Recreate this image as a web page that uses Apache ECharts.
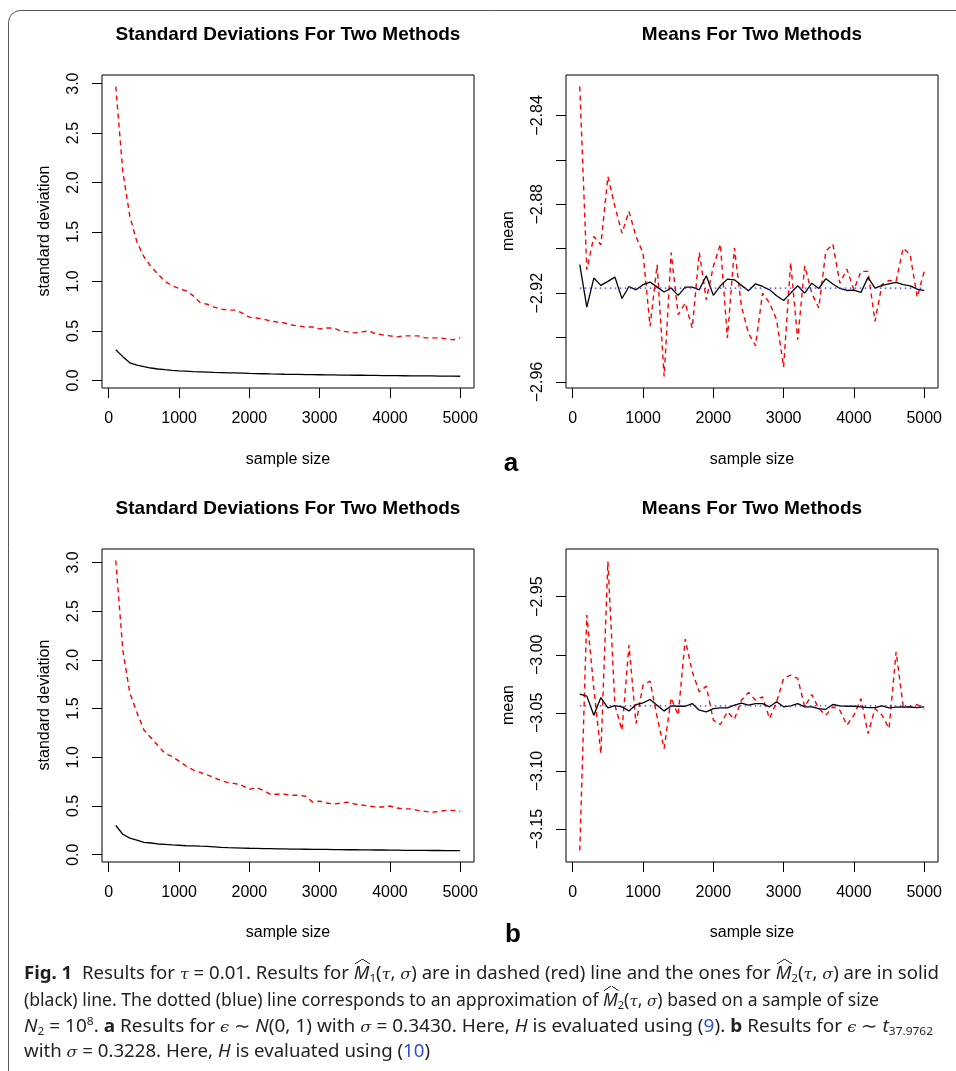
<!DOCTYPE html>
<html><head><meta charset="utf-8">
<script src="https://cdn.jsdelivr.net/npm/echarts@6/dist/echarts.min.js"></script>
<style>
html,body{margin:0;padding:0;background:#fff;}
#wrap{position:relative;width:956px;height:1071px;overflow:hidden;}
#chart{position:absolute;left:0;top:0;width:956px;height:1071px;}
.cap{position:absolute;left:24px;white-space:nowrap;font-family:"Noto Sans";font-size:17.5px;color:#231f20;transform-origin:0 50%;line-height:20px;}
.cap b{font-weight:700;}
.m{font-family:"DejaVu Serif";font-style:italic;font-size:15px;}
.it{font-style:italic;}
.ref{color:#2f4fd8;}
.hm{position:relative;display:inline-block;font-style:italic;}
.hm::before{content:"";position:absolute;left:1px;right:-1px;top:-3px;height:5px;background:
 linear-gradient(to top left, transparent 42%, #231f20 48%, #231f20 52%, transparent 58%) left/50% 100% no-repeat,
 linear-gradient(to top right, transparent 42%, #231f20 48%, #231f20 52%, transparent 58%) right/50% 100% no-repeat;}
sub{font-size:11px;vertical-align:-3px;line-height:0;}
sup{font-size:11px;vertical-align:7px;line-height:0;}
</style></head>
<body>
<div id="wrap">
<div id="chart"></div>
<div class="cap" data-w="915" style="top:962px"><b>Fig. 1</b>&nbsp; Results for <span class="m">τ</span> = 0.01. Results for <span class="hm">M</span><sub>1</sub>(<span class="m">τ</span>, <span class="m">σ</span>) are in dashed (red) line and the ones for <span class="hm">M</span><sub>2</sub>(<span class="m">τ</span>, <span class="m">σ</span>) are in solid</div>
<div class="cap" data-w="855" style="top:989px">(black) line. The dotted (blue) line corresponds to an approximation of <span class="hm">M</span><sub>2</sub>(<span class="m">τ</span>, <span class="m">σ</span>) based on a sample of size</div>
<div class="cap" data-w="909" style="top:1015px"><span class="it">N</span><sub>2</sub> = 10<sup>8</sup>. <b>a</b> Results for <span class="m">ϵ</span> ∼ <span class="it">N</span>(0, 1) with <span class="m">σ</span> = 0.3430. Here, <span class="it">H</span> is evaluated using (<span class="ref">9</span>). <b>b</b> Results for <span class="m">ϵ</span> ∼ <span class="it">t</span><sub>37.9762</sub></div>
<div class="cap" data-w="406" style="top:1040px">with <span class="m">σ</span> = 0.3228. Here, <span class="it">H</span> is evaluated using (<span class="ref">10</span>)</div>
</div>
<script>
// ---- data ----
const sampleSize = [100,200,300,400,500,600,700,800,900,1000,1100,1200,1300,1400,1500,1600,1700,1800,1900,2000,
  2100,2200,2300,2400,2500,2600,2700,2800,2900,3000,3100,3200,3300,3400,3500,3600,3700,3800,3900,4000,
  4100,4200,4300,4400,4500,4600,4700,4800,4900,5000];

// panel a: standard deviations
const sdM1a = [2.97,2.11,1.66,1.40,1.25,1.15,1.075,1.00,0.957,0.93,0.904,0.857,0.786,0.77,0.74,0.72,0.71,0.71,0.68,0.64,
  0.63,0.62,0.60,0.59,0.58,0.56,0.55,0.54,0.54,0.52,0.53,0.53,0.50,0.49,0.48,0.49,0.50,0.47,0.46,0.45,
  0.44,0.45,0.45,0.45,0.43,0.43,0.43,0.42,0.41,0.43];
const sdM2a = [0.31,0.24,0.178,0.155,0.138,0.125,0.115,0.108,0.102,0.097,0.093,0.089,0.086,0.083,0.080,0.078,0.076,0.075,0.074,0.071,
  0.069,0.067,0.065,0.064,0.062,0.061,0.060,0.059,0.058,0.057,0.056,0.055,0.054,0.053,0.052,0.052,0.051,0.050,0.049,0.048,
  0.048,0.047,0.046,0.046,0.045,0.045,0.044,0.044,0.043,0.042];

// panel a: means
const meanM1a = [-2.827,-2.9095,-2.8945,-2.8982,-2.8675,-2.881,-2.893,-2.8832,-2.8945,-2.902,
  -2.935,-2.9072,-2.9575,-2.9017,-2.9297,-2.9245,-2.9357,-2.9017,-2.923,-2.908,
  -2.8979,-2.9402,-2.8997,-2.926,-2.938,-2.9437,-2.92,-2.9245,-2.932,-2.9533,
  -2.9062,-2.941,-2.9077,-2.92,-2.9267,-2.9012,-2.8979,-2.9155,-2.9092,-2.9185,
  -2.9102,-2.9102,-2.9327,-2.9160,-2.9143,-2.9147,-2.8997,-2.9027,-2.9218,-2.9102];
const meanM2a = [-2.9072,-2.9263,-2.9132,-2.9165,-2.9147,-2.9128,-2.9224,-2.917,-2.9185,-2.9162,
  -2.915,-2.9173,-2.9195,-2.9177,-2.921,-2.9173,-2.9173,-2.9185,-2.9122,-2.921,
  -2.9167,-2.9137,-2.914,-2.9165,-2.9189,-2.9158,-2.917,-2.9185,-2.9212,-2.9233,
  -2.92,-2.9167,-2.92,-2.9155,-2.9179,-2.9135,-2.9159,-2.9179,-2.9188,-2.9186,
  -2.9197,-2.9129,-2.9177,-2.9165,-2.9158,-2.9152,-2.9162,-2.9167,-2.9182,-2.9189];
const meanRefA = -2.9177;

// panel b: standard deviations
const sdM1b = [3.02,2.10,1.66,1.46,1.28,1.20,1.12,1.04,1.01,0.96,0.91,0.87,0.845,0.82,0.79,0.76,0.74,0.73,0.71,0.67,
  0.69,0.66,0.62,0.62,0.62,0.61,0.61,0.60,0.54,0.55,0.53,0.52,0.53,0.54,0.52,0.51,0.50,0.49,0.49,0.50,
  0.48,0.47,0.47,0.455,0.445,0.435,0.445,0.455,0.455,0.445];
const sdM2b = [0.30,0.21,0.17,0.15,0.127,0.12,0.11,0.105,0.10,0.097,0.092,0.09,0.087,0.085,0.08,0.075,0.072,0.07,0.068,0.066,
  0.065,0.063,0.062,0.06,0.059,0.058,0.057,0.056,0.055,0.055,0.054,0.053,0.052,0.051,0.051,0.05,0.049,0.048,0.048,0.047,
  0.046,0.045,0.045,0.044,0.044,0.043,0.043,0.042,0.042,0.041];

// panel b: means
const meanM1b = [-3.1684,-2.9658,-3.029,-3.085,-2.9198,-3.0434,-3.065,-2.9917,-3.0592,-3.026,
  -3.0227,-3.0535,-3.0808,-3.0371,-3.052,-2.9865,-3.0147,-3.0319,-3.027,-3.0563,
  -3.06,-3.0491,-3.0555,-3.0391,-3.0325,-3.0391,-3.0362,-3.0549,-3.0405,-3.0204,
  -3.0175,-3.0204,-3.0448,-3.0342,-3.0463,-3.052,-3.0448,-3.0477,-3.0606,-3.052,
  -3.0377,-3.0678,-3.0463,-3.052,-3.0635,-2.9974,-3.044,-3.0448,-3.0428,-3.0469];
const meanM2b = [-3.0339,-3.0356,-3.052,-3.0368,-3.0457,-3.0437,-3.0448,-3.0483,-3.0428,-3.0414,
  -3.0385,-3.0434,-3.0483,-3.044,-3.0443,-3.0443,-3.042,-3.0477,-3.0492,-3.0463,
  -3.0457,-3.0457,-3.0434,-3.0417,-3.0434,-3.042,-3.042,-3.0448,-3.0405,-3.0448,
  -3.044,-3.042,-3.0448,-3.0448,-3.0463,-3.0469,-3.0428,-3.044,-3.0443,-3.0443,
  -3.0448,-3.0454,-3.0454,-3.044,-3.0457,-3.0451,-3.0448,-3.0451,-3.0454,-3.0448];
const meanRefB = -3.044;

// ticks
const xTicks = [0,1000,2000,3000,4000,5000];
const sdTicks = [0,0.5,1,1.5,2,2.5,3];
const meanTicksA = [-2.96,-2.94,-2.92,-2.90,-2.88,-2.86,-2.84];
const meanLabelsA = [-2.96,-2.92,-2.88,-2.84];
const meanTicksB = [-3.15,-3.10,-3.05,-3.00,-2.95];

// ---- chart ----
const FONT = 'Liberation Sans';
const pair = arr => sampleSize.map((x,i)=>[x, arr[i]]);
const refLine = v => [[sampleSize[0], v],[sampleSize[sampleSize.length-1], v]];

const grids = [
  {left:102, top:75, width:372, height:313},
  {left:566, top:75, width:372, height:313},
  {left:102, top:549, width:372, height:313},
  {left:566, top:549, width:372, height:313}
].map(g => Object.assign({show:true, borderColor:'#000', borderWidth:1, backgroundColor:'transparent', containLabel:false}, g));

function xAx(i){
  return {type:'value', gridIndex:i, min:-96, max:5196,
    axisLine:{show:false, onZero:false},
    axisTick:{show:true, inside:false, length:10, customValues:xTicks, lineStyle:{color:'#000', width:1}},
    axisLabel:{customValues:xTicks, margin:23, color:'#000', fontFamily:FONT, fontSize:16,
      formatter: v => String(Math.round(v))},
    splitLine:{show:false}};
}
function yAx(i, min, max, ticks, labels, dec){
  return {type:'value', gridIndex:i, min:min, max:max,
    axisLine:{show:false, onZero:false},
    axisTick:{show:true, inside:false, length:10, customValues:ticks, lineStyle:{color:'#000', width:1}},
    axisLabel:{customValues:labels, rotate:90, margin:20, color:'#000', fontFamily:FONT, fontSize:16,
      formatter: v => (v<0 ? '\u2212' : '') + Math.abs(v).toFixed(dec)},
    splitLine:{show:false}};
}
const red = (i,data)=>({type:'line', xAxisIndex:i, yAxisIndex:i, data:data, showSymbol:false, symbol:'none', silent:true,
  lineStyle:{color:'#ff0000', width:1.4, type:[5,4]}});
const blk = (i,data)=>({type:'line', xAxisIndex:i, yAxisIndex:i, data:data, showSymbol:false, symbol:'none', silent:true,
  lineStyle:{color:'#000000', width:1.3}});
const blu = (i,data)=>({type:'line', xAxisIndex:i, yAxisIndex:i, data:data, showSymbol:false, symbol:'none', silent:true,
  lineStyle:{color:'#2a2aff', width:1.2, type:[1.5,3.5]}});

function txt(x,y,text,opt){
  return {type:'text', x:x, y:y, rotation:(opt&&opt.rot)||0, silent:true,
    style:{text:text, fill:'#000', font:((opt&&opt.bold)?'bold ':'')+((opt&&opt.size)||16)+'px "'+FONT+'"',
      textAlign:'center', textVerticalAlign:'middle'}};
}

const option = {
  animation:false,
  backgroundColor:'#fff',
  grid: grids,
  xAxis:[xAx(0),xAx(1),xAx(2),xAx(3)],
  yAxis:[
    yAx(0,-0.077,3.087,sdTicks,sdTicks,1),
    yAx(1,-2.9627,-2.8218,meanTicksA,meanLabelsA,2),
    yAx(2,-0.075,3.138,sdTicks,sdTicks,1),
    yAx(3,-3.1783,-2.909,meanTicksB,meanTicksB,2)
  ],
  series:[
    red(0,pair(sdM1a)), blk(0,pair(sdM2a)),
    red(1,pair(meanM1a)), blk(1,pair(meanM2a)), blu(1,refLine(meanRefA)),
    red(2,pair(sdM1b)), blk(2,pair(sdM2b)),
    red(3,pair(meanM1b)), blk(3,pair(meanM2b)), blu(3,refLine(meanRefB))
  ],
  graphic:[
    {type:'rect', silent:true, shape:{x:8.5, y:10.5, width:1000, height:1100, r:12},
      style:{fill:'none', stroke:'#555', lineWidth:1}},
    txt(288,35,'Standard Deviations For Two Methods',{bold:true,size:19}),
    txt(752,35,'Means For Two Methods',{bold:true,size:19}),
    txt(288,509,'Standard Deviations For Two Methods',{bold:true,size:19}),
    txt(752,509,'Means For Two Methods',{bold:true,size:19}),
    txt(288,460,'sample size'),
    txt(752,460,'sample size'),
    txt(288,933,'sample size'),
    txt(752,933,'sample size'),
    txt(45,231,'standard deviation',{rot:Math.PI/2}),
    txt(509,231,'mean',{rot:Math.PI/2}),
    txt(45,705,'standard deviation',{rot:Math.PI/2}),
    txt(509,705,'mean',{rot:Math.PI/2}),
    txt(511,464,'a',{bold:true,size:26}),
    txt(513,935,'b',{bold:true,size:26})
  ]
};
const chart = echarts.init(document.getElementById('chart'), null, {renderer:'canvas', width:956, height:1071});
chart.setOption(option);

// fit caption lines to reference widths
document.querySelectorAll('.cap').forEach(el=>{
  const w = el.getBoundingClientRect().width;
  const t = parseFloat(el.dataset.w);
  if (w>0) el.style.transform = 'scaleX(' + (t/w) + ')';
});
</script>
</body></html>
